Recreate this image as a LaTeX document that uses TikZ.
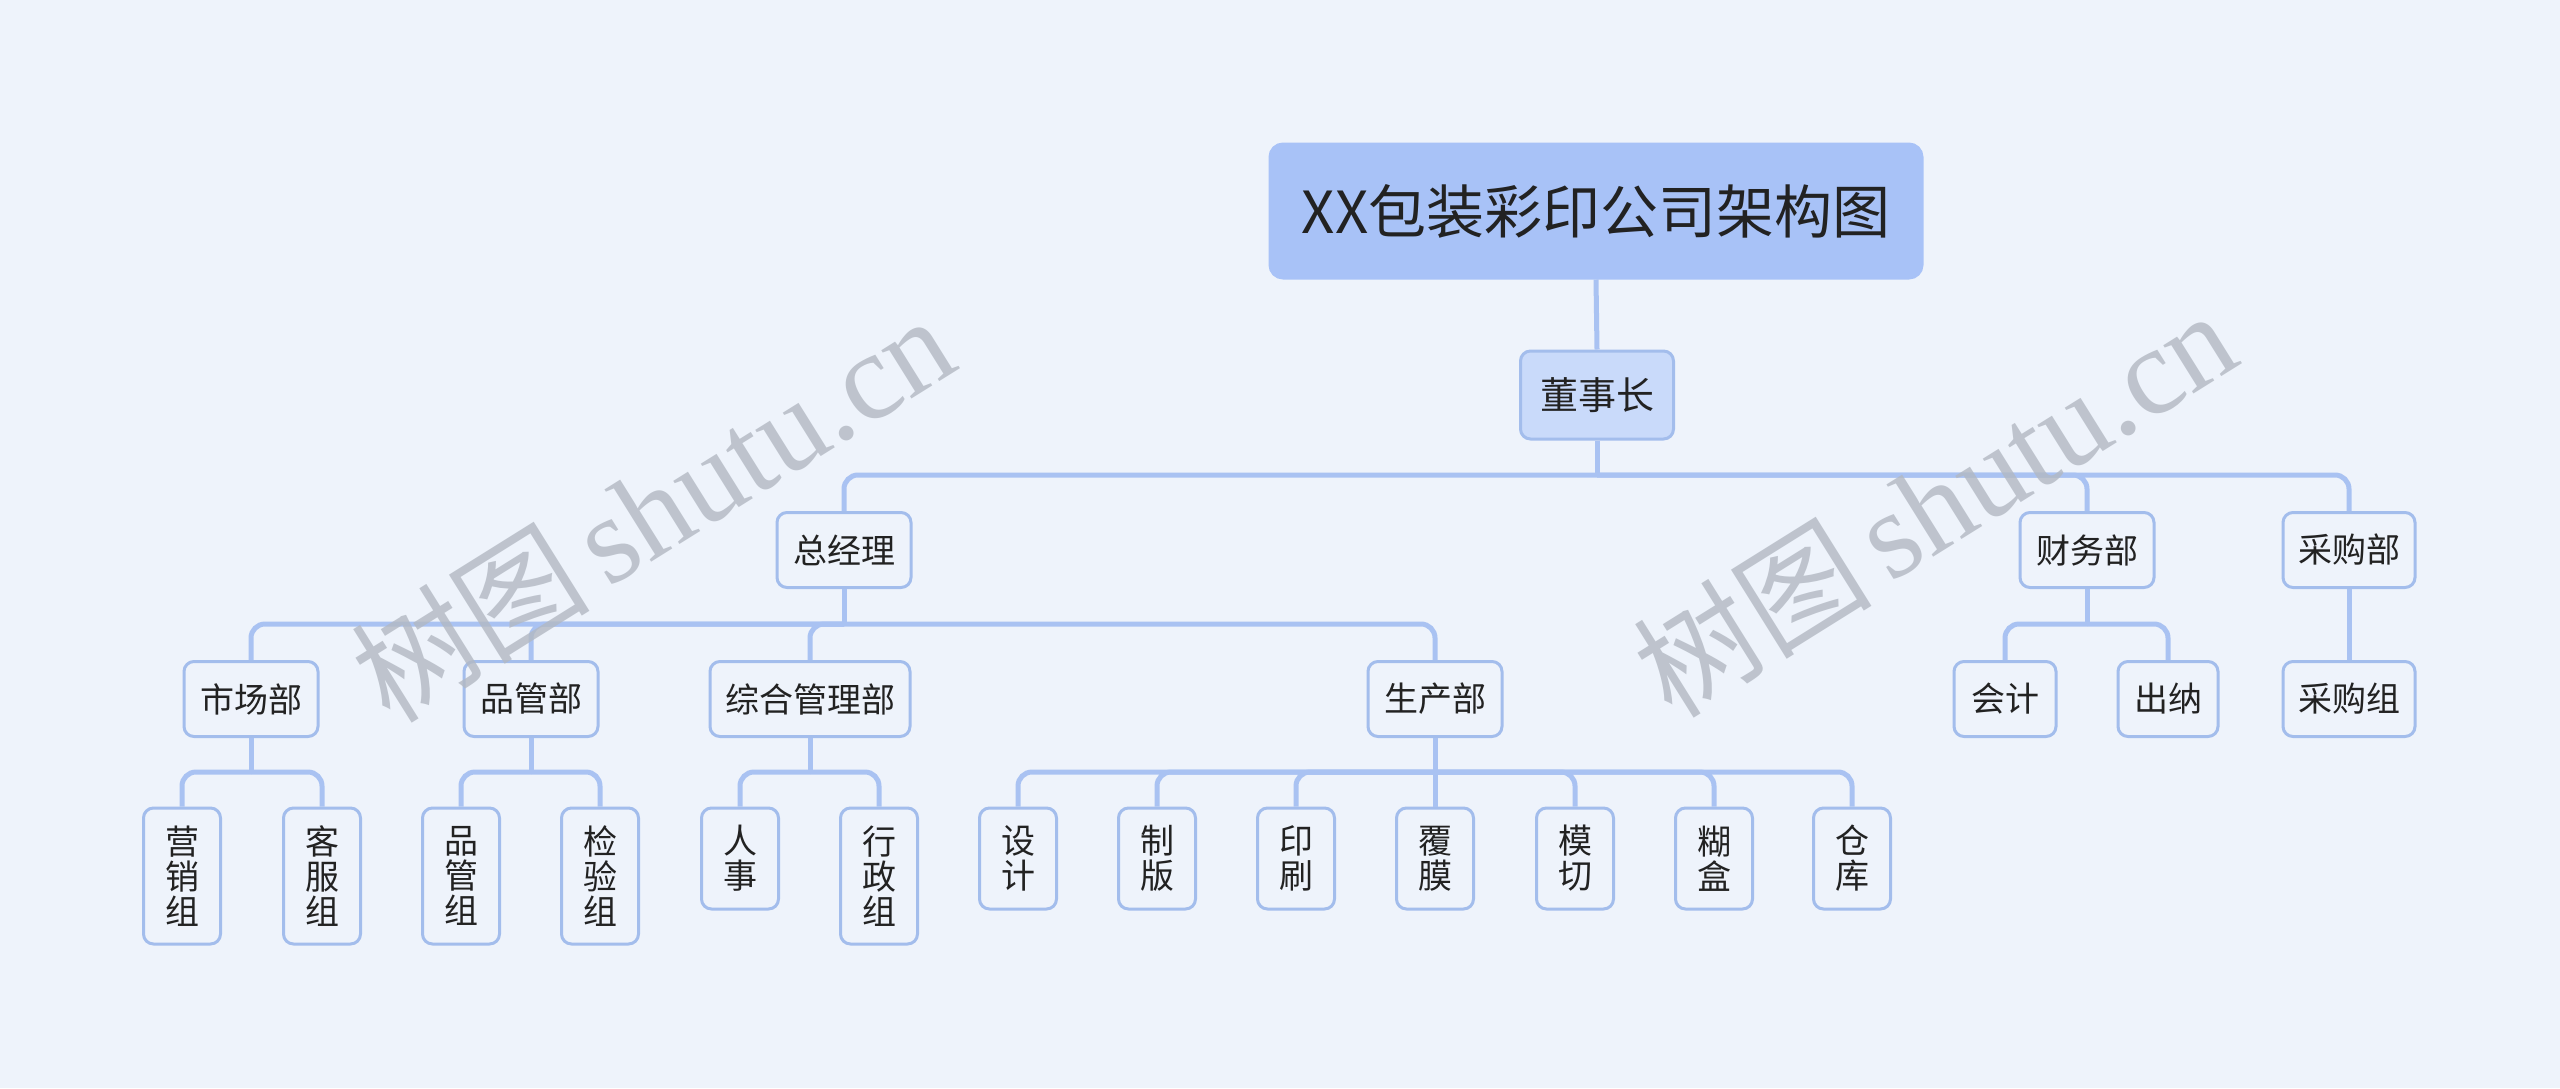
\documentclass[tikz,border=0pt]{standalone}
\usepackage{fontspec}
\setmainfont{Noto Sans CJK SC}
\newfontfamily\cjk{Noto Sans CJK SC}
\newfontfamily\wmserif{Liberation Serif}
\definecolor{bg}{HTML}{EEF3FB}
\definecolor{rootc}{HTML}{A8C2F7}
\definecolor{ceoc}{HTML}{C9DAFA}
\definecolor{nodeline}{HTML}{A3BDEC}
\definecolor{linec}{HTML}{A9C2F2}
\definecolor{txt}{HTML}{222222}
\definecolor{wm}{HTML}{B2B8C2}
\begin{document}
\begin{tikzpicture}[x=0.5pt,y=-0.5pt,
  box/.style={draw=nodeline, line width=1.5pt, rounded corners=5pt, fill=bg, inner sep=0pt,
    text=txt, font=\fontsize{17}{17.5}\selectfont, align=center},
  hbox/.style={box, minimum height=37.5pt},
  leaf/.style={box, minimum width=38.5pt, minimum height=68pt},
  leaftwo/.style={box, minimum width=38.5pt, minimum height=50.5pt},
  conn/.style={draw=linec, line width=2.5pt, rounded corners=7pt},
  wmark/.style={text=wm, opacity=0.8, rotate=32, inner sep=0pt}
]
\fill[bg] (0,0) rectangle (2560,1088);
\useasboundingbox (0,0) rectangle (2560,1088);

% root and chairman
\node[box, fill=rootc, draw=rootc, rounded corners=6.5pt, minimum width=326pt, minimum height=67pt,
  font=\fontsize{29}{30}\selectfont] (root) at (1596,211) {XX包装彩印公司架构图};
\node[box, fill=ceoc, minimum width=76.5pt, minimum height=44pt,
  font=\fontsize{19}{20}\selectfont] (ceo) at (1597,395) {董事长};

% level 2
\node[hbox, minimum width=67pt] (gm) at (844,550) {总经理};
\node[hbox, minimum width=67pt] (fin) at (2087,550) {财务部};
\node[hbox, minimum width=66pt] (pur) at (2349,550) {采购部};

% level 3
\node[hbox, minimum width=67pt] (mkt) at (251,699) {市场部};
\node[hbox, minimum width=67pt] (qc) at (531,699) {品管部};
\node[hbox, minimum width=100pt] (adm) at (810,699) {综合管理部};
\node[hbox, minimum width=67pt] (prod) at (1435,699) {生产部};
\node[hbox, minimum width=51pt] (acc) at (2005,699) {会计};
\node[hbox, minimum width=50pt] (cash) at (2168,699) {出纳};
\node[hbox, minimum width=66pt] (pgrp) at (2349,699) {采购组};

% level 4
\node[leaf] (l1) at (182,876) {营\\销\\组};
\node[leaf] (l2) at (322,876) {客\\服\\组};
\node[leaf] (l3) at (461,876) {品\\管\\组};
\node[leaf] (l4) at (600,876) {检\\验\\组};
\node[leaftwo] (l5) at (740,858.5) {人\\事};
\node[leaf] (l6) at (879,876) {行\\政\\组};
\node[leaftwo] (p1) at (1018,858.5) {设\\计};
\node[leaftwo] (p2) at (1157,858.5) {制\\版};
\node[leaftwo] (p3) at (1296,858.5) {印\\刷};
\node[leaftwo] (p4) at (1435,858.5) {覆\\膜};
\node[leaftwo] (p5) at (1575,858.5) {模\\切};
\node[leaftwo] (p6) at (1714,858.5) {糊\\盒};
\node[leaftwo] (p7) at (1852,858.5) {仓\\库};

% connectors
\coordinate (b0) at (1597,475);
\coordinate (bgm) at (844,624);
\coordinate (bfin) at (2087,624);
\coordinate (bmkt) at (251,772);
\coordinate (bqc) at (531,772);
\coordinate (badm) at (810,772);
\coordinate (bprod) at (1435,772);

\draw[conn] (root.south) -- (ceo.north);
\draw[conn] (ceo.south) -- (b0);
\foreach \c in {gm,fin,pur} \draw[conn] (b0) -| (\c.north);

\draw[conn] (gm.south) -- (bgm);
\foreach \c in {mkt,qc,adm,prod} \draw[conn] (bgm) -| (\c.north);

\draw[conn] (fin.south) -- (bfin);
\foreach \c in {acc,cash} \draw[conn] (bfin) -| (\c.north);

\draw[conn] (pur.south) -- (pgrp.north);

\draw[conn] (mkt.south) -- (bmkt);
\foreach \c in {l1,l2} \draw[conn] (bmkt) -| (\c.north);
\draw[conn] (qc.south) -- (bqc);
\foreach \c in {l3,l4} \draw[conn] (bqc) -| (\c.north);
\draw[conn] (adm.south) -- (badm);
\foreach \c in {l5,l6} \draw[conn] (badm) -| (\c.north);
\draw[conn] (prod.south) -- (bprod);
\foreach \c in {p1,p2,p3,p4,p5,p6,p7} \draw[conn] (bprod) -| (\c.north);

% watermarks
\node[wmark] (wm1) at (652,508) {{\cjk\fontsize{60}{62}\selectfont 树图}\hspace{9pt}{\wmserif\fontsize{62}{64}\selectfont shutu.cn}};
\node[wmark] (wm2) at (1934,503) {{\cjk\fontsize{60}{62}\selectfont 树图}\hspace{9pt}{\wmserif\fontsize{62}{64}\selectfont shutu.cn}};
\end{tikzpicture}
\end{document}
